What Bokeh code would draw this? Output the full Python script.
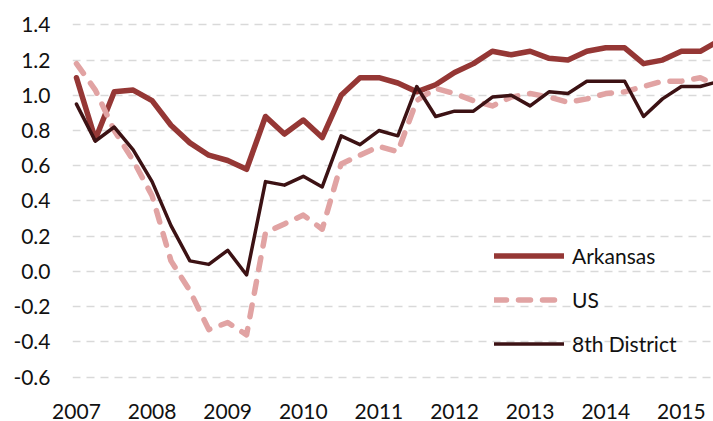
from bokeh.plotting import figure
from bokeh.models import FixedTicker, PrintfTickFormatter, Legend, LegendItem, Range1d
from bokeh.embed import file_html
from bokeh.resources import INLINE

# Quarterly data, 2007Q1 .. 2015Q3
quarters = [f"{y}Q{q}" for y in range(2007, 2016) for q in range(1, 5)][:35]
arkansas = [1.10, 0.75, 1.02, 1.03, 0.97, 0.83, 0.73, 0.66, 0.63, 0.58,
            0.88, 0.78, 0.86, 0.76, 1.00, 1.10, 1.10, 1.07, 1.02, 1.06,
            1.13, 1.18, 1.25, 1.23, 1.25, 1.21, 1.20, 1.25, 1.27, 1.27,
            1.18, 1.20, 1.25, 1.25, 1.31]
us = [1.18, 1.03, 0.80, 0.63, 0.43, 0.06, -0.11, -0.33, -0.29, -0.36,
      0.22, 0.27, 0.32, 0.24, 0.61, 0.66, 0.71, 0.68, 0.97, 1.04,
      1.01, 0.97, 0.94, 0.99, 1.01, 0.99, 0.96, 0.98, 1.01, 1.02,
      1.05, 1.08, 1.08, 1.10, 1.05]
district8 = [0.95, 0.74, 0.82, 0.69, 0.51, 0.26, 0.06, 0.04, 0.12, -0.02,
             0.51, 0.49, 0.54, 0.48, 0.77, 0.72, 0.80, 0.77, 1.05, 0.88,
             0.91, 0.91, 0.99, 1.00, 0.94, 1.02, 1.01, 1.08, 1.08, 1.08,
             0.88, 0.98, 1.05, 1.05, 1.08]
year_labels = ["2007", "2008", "2009", "2010", "2011", "2012", "2013", "2014", "2015"]
y_ticks = [-0.6, -0.4, -0.2, 0.0, 0.2, 0.4, 0.6, 0.8, 1.0, 1.2, 1.4]

x = list(range(len(quarters)))
year_pos = [quarters.index(f"{y}Q1") for y in year_labels]

FONT = "Lato"
TXT = "#111111"

p = figure(width=713, height=421, output_backend="svg", toolbar_location=None,
           x_range=Range1d(-0.21, 33.70), y_range=Range1d(-0.659, 1.493),
           min_border_left=72, min_border_right=0, min_border_top=8, min_border_bottom=31)
p.outline_line_color = None
p.background_fill_color = "white"
p.border_fill_color = "white"

p.xgrid.grid_line_color = None
p.ygrid.grid_line_color = "#d9d9d9"
p.ygrid.grid_line_width = 1.5
p.ygrid.grid_line_dash = "8 6"
p.ygrid.ticker = FixedTicker(ticks=y_ticks)

p.yaxis.ticker = FixedTicker(ticks=y_ticks)
p.yaxis.formatter = PrintfTickFormatter(format="%.1f")
p.xaxis.ticker = FixedTicker(ticks=year_pos)
p.xaxis.major_label_overrides = {pos: lab for pos, lab in zip(year_pos, year_labels)}

for ax in (p.xaxis[0], p.yaxis[0]):
    ax.axis_line_color = None
    ax.major_tick_line_color = None
    ax.minor_tick_line_color = None
    ax.major_tick_out = 0
    ax.major_tick_in = 0
    ax.major_label_text_font = FONT
    ax.major_label_text_font_size = "21px"
    ax.major_label_text_color = TXT
p.yaxis.major_label_standoff = 22
p.xaxis.major_label_standoff = 16

r_ar = p.line(x, arkansas, line_color="#953735", line_width=5.5, line_join="round", line_cap="round")
r_us = p.line(x, us, line_color="#e1a3a3", line_width=5.5, line_dash="12 12",
              line_join="round", line_cap="round")
r_d8 = p.line(x, district8, line_color="#3c1214", line_width=3.5, line_join="round", line_cap="round")

legend = Legend(items=[LegendItem(label="Arkansas", renderers=[r_ar]),
                       LegendItem(label="US", renderers=[r_us]),
                       LegendItem(label="8th District", renderers=[r_d8])],
                location=(422, 31), orientation="vertical",
                glyph_width=70, glyph_height=25, label_height=25, spacing=19,
                label_standoff=8, padding=0, margin=0,
                border_line_color=None, background_fill_alpha=0,
                label_text_font=FONT, label_text_font_size="21px", label_text_color=TXT)
p.add_layout(legend, "center")

open("out.html", "w").write(file_html(p, INLINE))
